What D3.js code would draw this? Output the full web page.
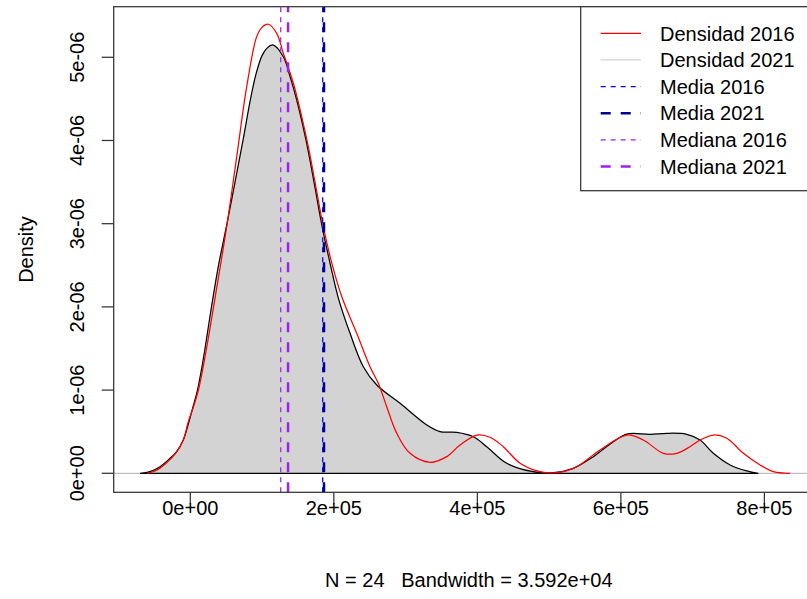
<!DOCTYPE html>
<html><head><meta charset="utf-8">
<script src="https://cdn.jsdelivr.net/npm/d3@7"></script>
<style>body{margin:0;background:#fff}svg{display:block;font-family:"Liberation Sans",Arial,sans-serif}text{white-space:pre}</style>
</head><body><svg id="c" width="807" height="599"></svg>
<script>
// Density 2021 (filled gray): x values and densities
const x2021 = [-70100,-56200,-42200,-28300,-19000,-9800,-2500,3800,10000,15600,20500,29500,39300,51100,62300,73400,83900,91600,99900,106900,114800,129600,139000,148300,161300,172400,182900,195400,206500,222600,241100,259800,292300,329500,348000,371300,394400,413100,441000,478000,505900,533800,561700,589500,608200,640700,664000,691800,710400,728900,752200,775500,791600];
const d2021 = [0,0.019e-6,0.079e-6,0.180e-6,0.260e-6,0.400e-6,0.60e-6,0.80e-6,1.00e-6,1.25e-6,1.50e-6,2.00e-6,2.50e-6,3.00e-6,3.50e-6,4.00e-6,4.50e-6,4.80e-6,5.02e-6,5.11e-6,5.148e-6,5.007e-6,4.767e-6,4.487e-6,4.00e-6,3.50e-6,3.00e-6,2.50e-6,2.10e-6,1.683e-6,1.281e-6,1.061e-6,0.841e-6,0.581e-6,0.500e-6,0.493e-6,0.440e-6,0.320e-6,0.120e-6,0.019e-6,0.007e-6,0.060e-6,0.200e-6,0.380e-6,0.472e-6,0.469e-6,0.481e-6,0.469e-6,0.400e-6,0.240e-6,0.100e-6,0.028e-6,0];
// Density 2016 (red line)
const x2016 = [-60300,-49200,-35300,-21300,-9800,-2800,4500,12100,22600,34400,50700,64700,78600,92500,99900,108700,120400,129600,143600,162600,173800,185000,198000,212000,231900,250400,262000,273700,287700,306200,334100,357300,375900,399200,417700,436200,459500,487400,510700,538500,571000,608200,631300,659200,677900,696400,710400,728900,747600,770700,794000,812500,835800];
const d2016 = [0,0.028e-6,0.11e-6,0.23e-6,0.40e-6,0.62e-6,0.80e-6,1.03e-6,1.50e-6,2.103e-6,2.964e-6,3.805e-6,4.647e-6,5.248e-6,5.36e-6,5.397e-6,5.288e-6,5.048e-6,4.688e-6,4.00e-6,3.50e-6,2.98e-6,2.50e-6,2.10e-6,1.683e-6,1.281e-6,1.082e-6,0.800e-6,0.481e-6,0.240e-6,0.132e-6,0.200e-6,0.340e-6,0.460e-6,0.433e-6,0.320e-6,0.120e-6,0.019e-6,0.007e-6,0.079e-6,0.280e-6,0.460e-6,0.400e-6,0.240e-6,0.240e-6,0.320e-6,0.400e-6,0.460e-6,0.421e-6,0.240e-6,0.100e-6,0.019e-6,0];
const mean2016 = 184500, mean2021 = 186300, median2016 = 126000, median2021 = 136200;
const xTicks = [0,200000,400000,600000,800000];
const xTickLabels = ["0e+00","2e+05","4e+05","6e+05","8e+05"];
const yTicks = [0,1e-6,2e-6,3e-6,4e-6,5e-6];
const yTickLabels = ["0e+00","1e-06","2e-06","3e-06","4e-06","5e-06"];
const legendLabels = ["Densidad 2016","Densidad 2021","Media 2016","Media 2021","Mediana 2016","Mediana 2021"];
const xLabel = "N = 24   Bandwidth = 3.592e+04";
const yLabel = "Density";

const svg = d3.select("#c");
const L = 113.7, R = 824, T = 6.7, B = 492.3;
const x = d3.scaleLinear().domain([-106760, 883060]).range([L, R]);
const y = d3.scaleLinear().domain([-0.2284e-6, 5.608e-6]).range([B, T]);
const FS = 20;

svg.append("defs").append("clipPath").attr("id","clip").append("rect")
  .attr("x",L).attr("y",T).attr("width",R-L).attr("height",B-T);
const plot = svg.append("g").attr("clip-path","url(#clip)");

// zero line
plot.append("line").attr("x1",L).attr("x2",R).attr("y1",y(0)).attr("y2",y(0))
  .attr("stroke","#bebebe").attr("stroke-width",1.2);

const pts21 = x2021.map((v,i)=>[v,d2021[i]]);
const pts16 = x2016.map((v,i)=>[v,d2016[i]]);
const area = d3.area().x(d=>x(d[0])).y0(y(0)).y1(d=>y(d[1])).curve(d3.curveCatmullRom);
plot.append("path").datum(pts21).attr("d",area).attr("fill","#d3d3d3")
  .attr("stroke","#000").attr("stroke-width",1.25);
const line = d3.line().x(d=>x(d[0])).y(d=>y(d[1])).curve(d3.curveCatmullRom);
plot.append("path").datum(pts16).attr("d",line).attr("fill","none")
  .attr("stroke","#ff0000").attr("stroke-width",1.25);

const vlines = [
  {v:mean2016, c:"#0000ff", w:1.25, dash:"5,5"},
  {v:mean2021, c:"#00008b", w:2.5, dash:"10,10"},
  {v:median2016, c:"#a020f0", w:1.25, dash:"5,5"},
  {v:median2021, c:"#a020f0", w:2.5, dash:"10,10"}
];
vlines.forEach(l=>{
  plot.append("line").attr("x1",x(l.v)).attr("x2",x(l.v)).attr("y1",B).attr("y2",T)
    .attr("stroke",l.c).attr("stroke-width",l.w).attr("stroke-dasharray",l.dash);
});

// box
svg.append("rect").attr("x",L).attr("y",T).attr("width",R-L).attr("height",B-T)
  .attr("fill","none").attr("stroke","#333").attr("stroke-width",1.25);

// x axis
const xa = svg.append("g");
xTicks.forEach((v,i)=>{
  xa.append("line").attr("x1",x(v)).attr("x2",x(v)).attr("y1",B).attr("y2",B+12)
    .attr("stroke","#333").attr("stroke-width",1.25);
  xa.append("text").attr("x",x(v)).attr("y",515).attr("text-anchor","middle")
    .attr("font-size",FS).attr("fill","#000").text(xTickLabels[i]);
});
// y axis
const ya = svg.append("g");
yTicks.forEach((v,i)=>{
  ya.append("line").attr("x1",L-12).attr("x2",L).attr("y1",y(v)).attr("y2",y(v))
    .attr("stroke","#333").attr("stroke-width",1.25);
  ya.append("text").attr("transform",`translate(83.5,${y(v)}) rotate(-90)`)
    .attr("text-anchor","middle").attr("font-size",FS).attr("fill","#000").text(yTickLabels[i]);
});
svg.append("text").attr("x",(L+R)/2).attr("y",587).attr("text-anchor","middle")
  .attr("font-size",FS).attr("fill","#000").text(xLabel);
svg.append("text").attr("transform",`translate(32.5,${(T+B)/2}) rotate(-90)`)
  .attr("text-anchor","middle").attr("font-size",FS).attr("fill","#000").text(yLabel);

// legend
const lg = svg.append("g");
lg.append("rect").attr("x",580.7).attr("y",T).attr("width",260).attr("height",190.7-T)
  .attr("fill","#fff").attr("stroke","#333").attr("stroke-width",1.25);
const lstyles = [
  {c:"#ff0000", w:1.25, dash:null},
  {c:"#d3d3d3", w:1.25, dash:null},
  {c:"#0000ff", w:1.25, dash:"5,5"},
  {c:"#00008b", w:2.5, dash:"10,10"},
  {c:"#a020f0", w:1.25, dash:"5,5"},
  {c:"#a020f0", w:2.5, dash:"10,10"}
];
legendLabels.forEach((t,i)=>{
  const yy = 33.3 + i*26.65;
  lg.append("line").attr("x1",600.7).attr("x2",641).attr("y1",yy).attr("y2",yy)
    .attr("stroke",lstyles[i].c).attr("stroke-width",lstyles[i].w)
    .attr("stroke-dasharray",lstyles[i].dash);
  lg.append("text").attr("x",660).attr("y",yy+7.2).attr("font-size",FS).attr("fill","#000").text(t);
});
</script></body></html>
